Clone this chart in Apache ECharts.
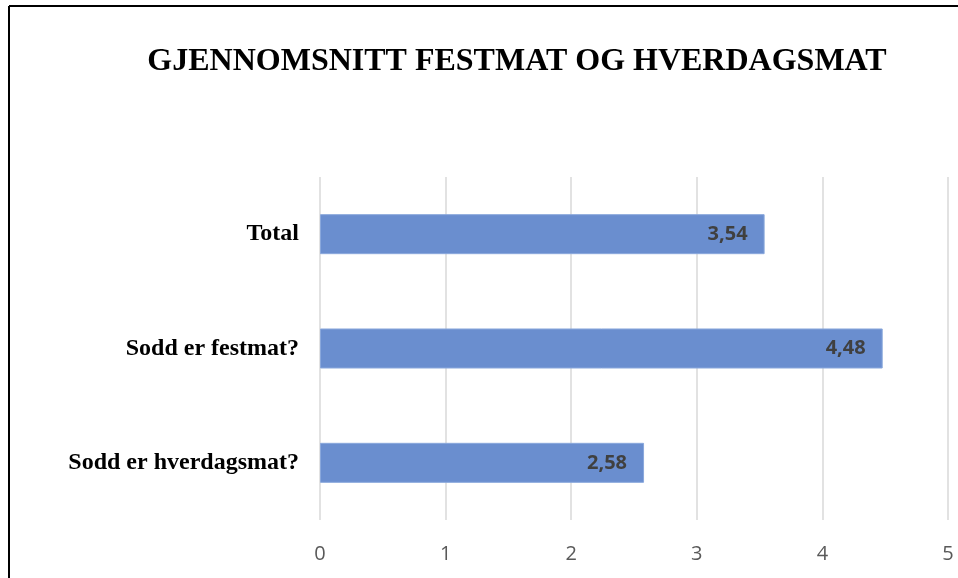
<!DOCTYPE html>
<html>
<head>
<meta charset="utf-8">
<script src="https://cdn.jsdelivr.net/npm/echarts@6/dist/echarts.min.js"></script>
<style>
	html, body { margin: 0; padding: 0; background: #fff; }
	#chart { width: 958px; height: 578px; }
</style>
</head>
<body>
<div id="chart"></div>
<script>
	var categories = ['Total', 'Sodd er festmat?', 'Sodd er hverdagsmat?'];
	var values = [3.54, 4.48, 2.58];
	var tickLabels = ['0', '1', '2', '3', '4', '5'];

	var myChart = echarts.init(document.getElementById('chart'));
	var option = {
		backgroundColor: '#fff',
		animation: false,
		title: {
			text: 'GJENNOMSNITT FESTMAT OG HVERDAGSMAT',
			left: 512,
			top: 41,
			textAlign: 'center',
			textStyle: {
				fontFamily: 'Liberation Serif',
				fontWeight: 'bold',
				fontSize: 32,
				color: '#000'
			}
		},
		grid: {
			left: 320,
			right: 10,
			top: 177,
			bottom: 58
		},
		xAxis: {
			type: 'value',
			min: 0,
			max: 5,
			interval: 1,
			axisLine: { show: false },
			axisTick: { show: false },
			axisLabel: {
				margin: 24,
				fontFamily: 'Open Sans',
				fontSize: 20,
				color: '#595959',
				formatter: function(v) {
					return tickLabels[Math.round(v)];
				}
			},
			splitLine: {
				show: true,
				lineStyle: { color: '#D9D9D9', width: 1.5 }
			}
		},
		yAxis: {
			type: 'category',
			inverse: true,
			data: categories,
			axisLine: { show: false },
			axisTick: { show: false },
			axisLabel: {
				margin: 21,
				padding: [6, 0, 0, 0],
				fontFamily: 'Liberation Serif',
				fontWeight: 'bold',
				fontSize: 24,
				color: '#000'
			}
		},
		series: [{
			type: 'bar',
			data: values,
			barWidth: '35%',
			itemStyle: {
				color: '#6A8ECF',
				borderColor: '#8AA8DC',
				borderWidth: 1
			},
			label: {
				show: true,
				position: 'insideRight',
				distance: 17,
				fontFamily: 'Open Sans',
				fontWeight: 'bold',
				fontSize: 20,
				color: '#404040',
				formatter: function(p) {
					return p.value.toFixed(2).replace('.', ',');
				}
			}
		}],
		graphic: [
			{ type: 'line', shape: { x1: 9, y1: 6, x2: 958, y2: 6 }, style: { stroke: '#000', lineWidth: 2 } },
			{ type: 'line', shape: { x1: 9, y1: 6, x2: 9, y2: 578 }, style: { stroke: '#000', lineWidth: 2 } }
		]
	};
	myChart.setOption(option);
</script>
</body>
</html>
